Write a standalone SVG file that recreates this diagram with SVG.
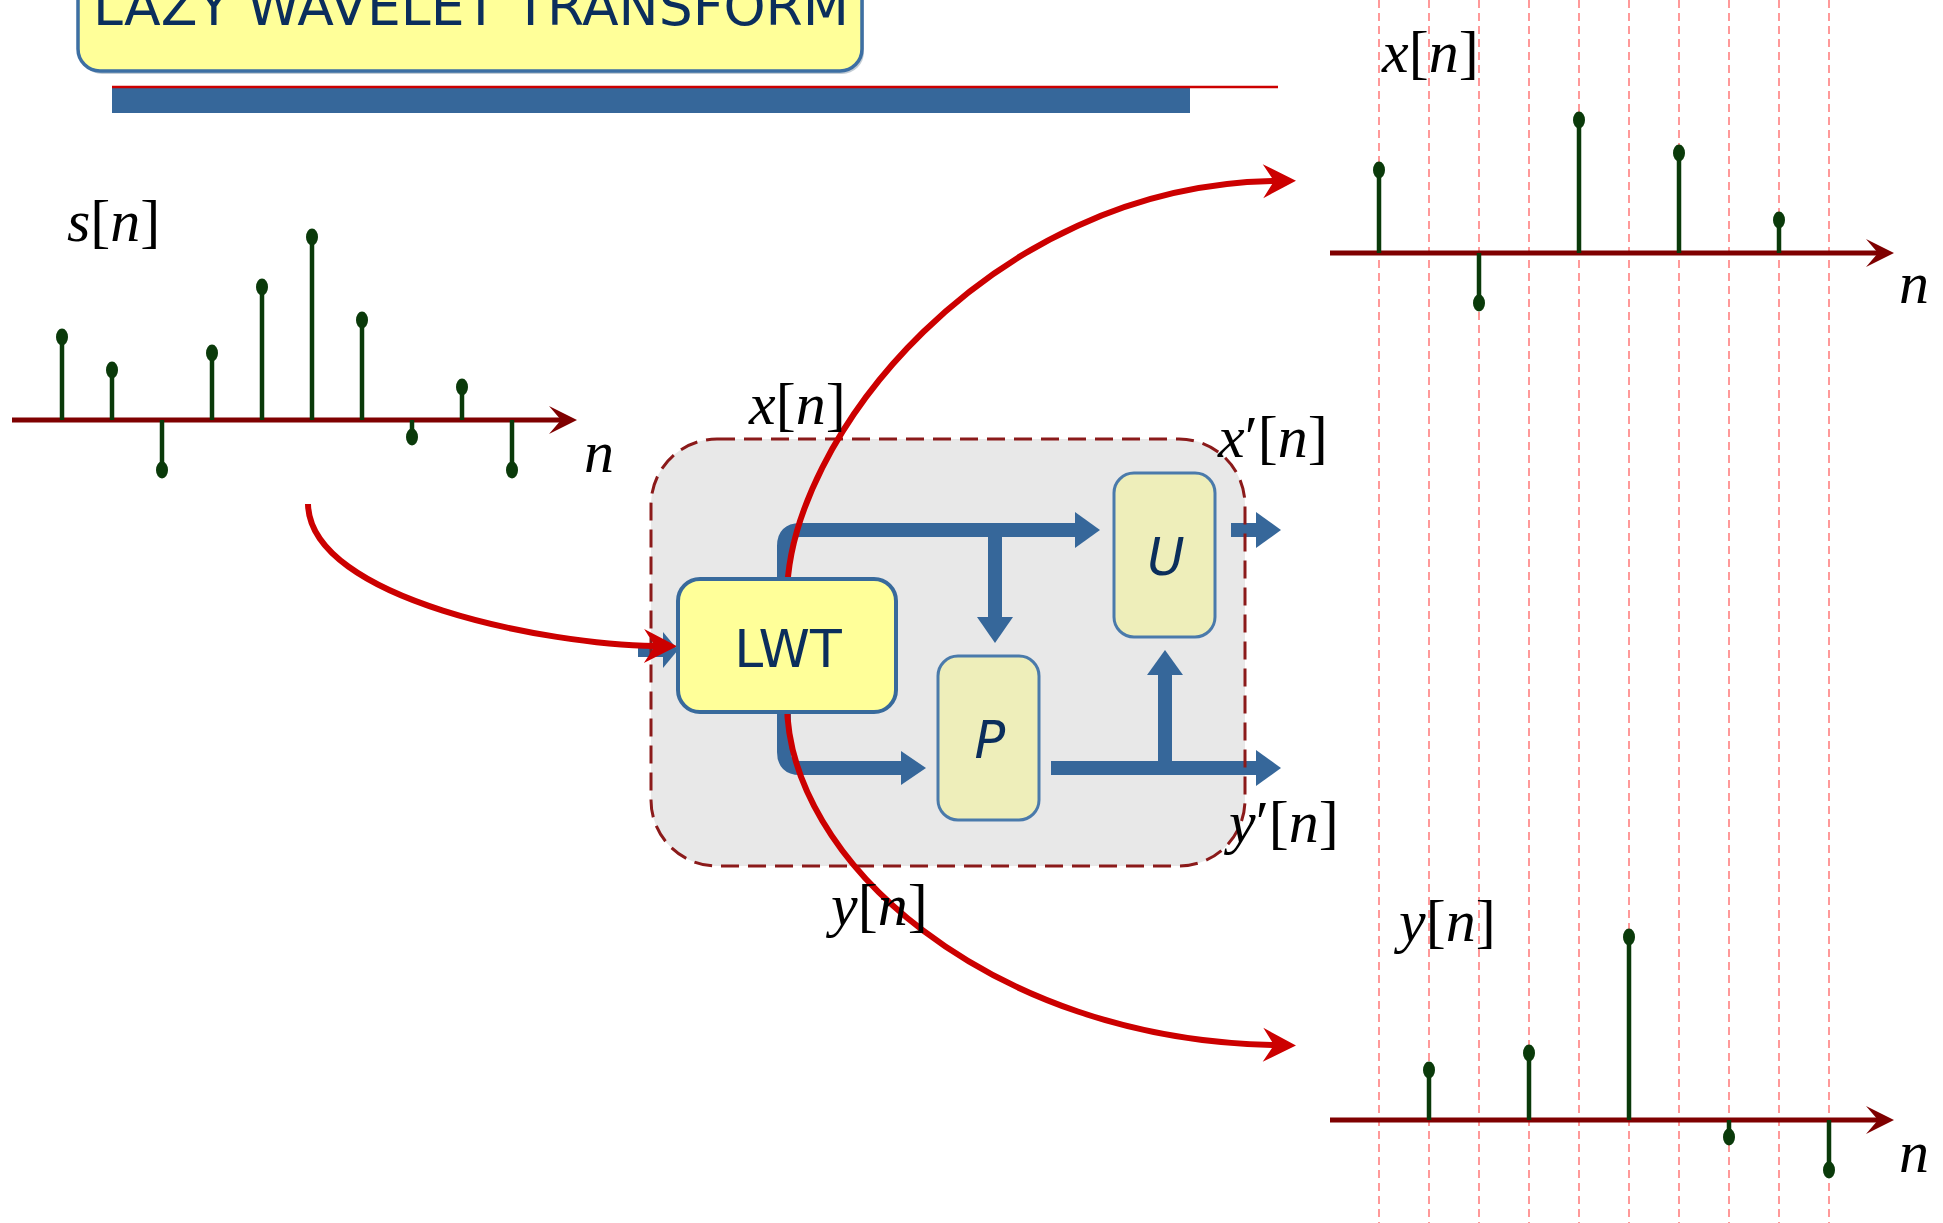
<svg xmlns="http://www.w3.org/2000/svg" width="1943" height="1223" viewBox="0 0 1943 1223">
<style>
.m{font-family:"Liberation Serif","Times New Roman",serif;font-size:60px;fill:#000}
.i{font-style:italic}
.stem{stroke:#0a3a0a;stroke-width:4.5}
.dot{fill:#0a3a0a}
.axis{stroke:#7f0000;stroke-width:5;fill:none}
.grid{stroke:#ff9999;stroke-width:2;stroke-dasharray:8 5}
.flow{stroke:#36679a;stroke-width:14;fill:none}
.head{fill:#36679a}
.red{stroke:#cc0000;stroke-width:6;fill:none}
.bt{font-family:"DejaVu Sans",Verdana,sans-serif;fill:#0b2e5c}
.blk{fill:#eeeeba;stroke:#4a7aab;stroke-width:3}
</style>
<defs>
<marker id="ax" markerUnits="userSpaceOnUse" markerWidth="40" markerHeight="40" viewBox="-20 -20 40 40" refX="0" refY="0" orient="auto">
<path d="M14,0 L-14,-14 L-2,0 L-14,14 Z" fill="#7f0000"/>
</marker>
<marker id="ra" markerUnits="userSpaceOnUse" markerWidth="40" markerHeight="40" viewBox="-15 -20 40 40" refX="0" refY="0" orient="auto">
<path d="M22,0 L-11,-17 L0,0 L-11,17 Z" fill="#cc0000"/>
</marker>
</defs>

<g id="title">
<rect x="80" y="-40" width="784" height="114" rx="22" fill="#8899aa" opacity="0.5"/>
<rect x="78" y="-40" width="784" height="111" rx="22" fill="#ffff99" stroke="#3d6fa3" stroke-width="3.5"/>
<text class="bt" x="93" y="25" font-size="53" textLength="756" lengthAdjust="spacingAndGlyphs">LAZY WAVELET TRANSFORM</text>
<rect x="112" y="88" width="1078" height="25" fill="#36679a"/>
<line x1="112" y1="87" x2="1278" y2="87" stroke="#cc0000" stroke-width="2.5"/>
</g>

<g id="grid">
<line class="grid" x1="1379" y1="0" x2="1379" y2="1223"/>
<line class="grid" x1="1429" y1="0" x2="1429" y2="1223"/>
<line class="grid" x1="1479" y1="0" x2="1479" y2="1223"/>
<line class="grid" x1="1529" y1="0" x2="1529" y2="1223"/>
<line class="grid" x1="1579" y1="0" x2="1579" y2="1223"/>
<line class="grid" x1="1629" y1="0" x2="1629" y2="1223"/>
<line class="grid" x1="1679" y1="0" x2="1679" y2="1223"/>
<line class="grid" x1="1729" y1="0" x2="1729" y2="1223"/>
<line class="grid" x1="1779" y1="0" x2="1779" y2="1223"/>
<line class="grid" x1="1829" y1="0" x2="1829" y2="1223"/>
</g>

<g id="plot-s">
<line class="axis" x1="12" y1="420" x2="563" y2="420" marker-end="url(#ax)"/>
<line class="stem" x1="62" y1="420" x2="62" y2="337"/><ellipse class="dot" cx="62" cy="337" rx="6" ry="8.5"/>
<line class="stem" x1="112" y1="420" x2="112" y2="370"/><ellipse class="dot" cx="112" cy="370" rx="6" ry="8.5"/>
<line class="stem" x1="162" y1="420" x2="162" y2="470"/><ellipse class="dot" cx="162" cy="470" rx="6" ry="8.5"/>
<line class="stem" x1="212" y1="420" x2="212" y2="353"/><ellipse class="dot" cx="212" cy="353" rx="6" ry="8.5"/>
<line class="stem" x1="262" y1="420" x2="262" y2="287"/><ellipse class="dot" cx="262" cy="287" rx="6" ry="8.5"/>
<line class="stem" x1="312" y1="420" x2="312" y2="237"/><ellipse class="dot" cx="312" cy="237" rx="6" ry="8.5"/>
<line class="stem" x1="362" y1="420" x2="362" y2="320"/><ellipse class="dot" cx="362" cy="320" rx="6" ry="8.5"/>
<line class="stem" x1="412" y1="420" x2="412" y2="437"/><ellipse class="dot" cx="412" cy="437" rx="6" ry="8.5"/>
<line class="stem" x1="462" y1="420" x2="462" y2="387"/><ellipse class="dot" cx="462" cy="387" rx="6" ry="8.5"/>
<line class="stem" x1="512" y1="420" x2="512" y2="470"/><ellipse class="dot" cx="512" cy="470" rx="6" ry="8.5"/>
<text class="m" x="67" y="241"><tspan class="i">s</tspan>[<tspan class="i">n</tspan>]</text>
<text class="m i" x="584" y="472">n</text>
</g>

<g id="plot-x">
<line class="axis" x1="1330" y1="253" x2="1880" y2="253" marker-end="url(#ax)"/>
<line class="stem" x1="1379" y1="253" x2="1379" y2="170"/><ellipse class="dot" cx="1379" cy="170" rx="6" ry="8.5"/>
<line class="stem" x1="1479" y1="253" x2="1479" y2="303"/><ellipse class="dot" cx="1479" cy="303" rx="6" ry="8.5"/>
<line class="stem" x1="1579" y1="253" x2="1579" y2="120"/><ellipse class="dot" cx="1579" cy="120" rx="6" ry="8.5"/>
<line class="stem" x1="1679" y1="253" x2="1679" y2="153"/><ellipse class="dot" cx="1679" cy="153" rx="6" ry="8.5"/>
<line class="stem" x1="1779" y1="253" x2="1779" y2="220"/><ellipse class="dot" cx="1779" cy="220" rx="6" ry="8.5"/>
<text class="m" x="1382" y="72"><tspan class="i">x</tspan>[<tspan class="i">n</tspan>]</text>
<text class="m i" x="1899" y="303">n</text>
</g>

<g id="plot-y">
<line class="axis" x1="1330" y1="1120" x2="1880" y2="1120" marker-end="url(#ax)"/>
<line class="stem" x1="1429" y1="1120" x2="1429" y2="1070"/><ellipse class="dot" cx="1429" cy="1070" rx="6" ry="8.5"/>
<line class="stem" x1="1529" y1="1120" x2="1529" y2="1053"/><ellipse class="dot" cx="1529" cy="1053" rx="6" ry="8.5"/>
<line class="stem" x1="1629" y1="1120" x2="1629" y2="937"/><ellipse class="dot" cx="1629" cy="937" rx="6" ry="8.5"/>
<line class="stem" x1="1729" y1="1120" x2="1729" y2="1137"/><ellipse class="dot" cx="1729" cy="1137" rx="6" ry="8.5"/>
<line class="stem" x1="1829" y1="1120" x2="1829" y2="1170"/><ellipse class="dot" cx="1829" cy="1170" rx="6" ry="8.5"/>
<text class="m" x="1399" y="941"><tspan class="i">y</tspan>[<tspan class="i">n</tspan>]</text>
<text class="m i" x="1899" y="1172">n</text>
</g>

<g id="lifting-bg">
<rect x="651" y="439" width="594" height="427" rx="66" fill="#e8e8e8"/>
</g>

<g id="connectors">
<path class="flow" d="M784,580 L784,546 Q784,530 800,530 L1077,530"/>
<polygon class="head" points="1075,512 1100,530 1075,548"/>
<path class="flow" d="M995,530 L995,619"/>
<polygon class="head" points="977,617 995,643 1013,617"/>
<path class="flow" d="M784,710 L784,752 Q784,768 800,768 L903,768"/>
<polygon class="head" points="901,751 926,768 901,785"/>
<path class="flow" d="M1051,768 L1258,768"/>
<polygon class="head" points="1256,750 1281,768 1256,786"/>
<path class="flow" d="M1165,768 L1165,673"/>
<polygon class="head" points="1147,675 1165,650 1183,675"/>
<path class="flow" d="M1231,530 L1258,530"/>
<polygon class="head" points="1256,512 1281,530 1256,548"/>
<path class="flow" d="M638,650 L665,650"/>
<polygon class="head" points="663,632 678,650 663,668"/>
</g>

<g id="lifting-border">
<rect x="651" y="439" width="594" height="427" rx="66" fill="none" stroke="#8b1a1a" stroke-width="3" stroke-dasharray="18 9"/>
</g>

<g id="red-arrows">
<path class="red" d="M308,504 C310,600 550,645 655,646" marker-end="url(#ra)"/>
<path class="red" d="M787,600 C785,440 990,185 1274,181" marker-end="url(#ra)"/>
<path class="red" d="M787,700 C785,860 990,1040 1274,1045" marker-end="url(#ra)"/>
</g>

<g id="lwt">
<rect x="678" y="579" width="218" height="133" rx="22" fill="#ffff99" stroke="#386a9c" stroke-width="4"/>
<text class="bt" x="788" y="667" font-size="52" text-anchor="middle">LWT</text>
</g>

<g id="p">
<rect class="blk" x="938" y="656" width="101" height="164" rx="20"/>
<text class="bt" x="990" y="758" font-size="51" font-style="italic" text-anchor="middle">P</text>
</g>

<g id="u">
<rect class="blk" x="1114" y="473" width="101" height="164" rx="20"/>
<text class="bt" x="1166" y="575" font-size="51" font-style="italic" text-anchor="middle">U</text>
</g>

<g id="labels">
<text class="m" x="749" y="424"><tspan class="i">x</tspan>[<tspan class="i">n</tspan>]</text>
<text class="m" x="1218" y="457"><tspan class="i">x</tspan>′[<tspan class="i">n</tspan>]</text>
<text class="m" x="1229" y="842"><tspan class="i">y</tspan>′[<tspan class="i">n</tspan>]</text>
<text class="m" x="831" y="925"><tspan class="i">y</tspan>[<tspan class="i">n</tspan>]</text>
</g>
</svg>
